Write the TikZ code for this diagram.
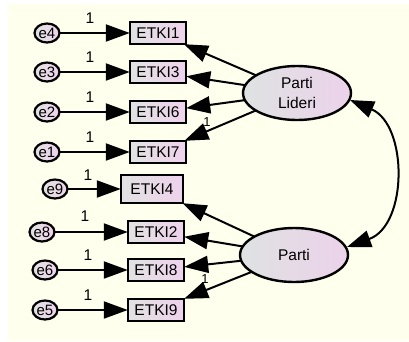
\documentclass[tikz,border=0pt]{standalone}
\usepackage{fontspec}
\setmainfont{Liberation Sans}
\usetikzlibrary{arrows.meta,shapes.geometric}
\definecolor{bgc}{RGB}{255,255,238}
\definecolor{boxL}{RGB}{226,226,226}
\definecolor{boxR}{RGB}{238,210,236}
\definecolor{latL}{RGB}{222,226,226}
\definecolor{latR}{RGB}{236,210,234}
\begin{document}
\begin{tikzpicture}[x=1pt,y=-1pt,
  obs/.style={left color=boxL,right color=boxR,minimum width=56pt,minimum height=22pt,inner sep=0pt,font=\fontsize{15.5}{17}\selectfont,
    postaction={draw=black,line width=2.4pt}},
  err/.style={ellipse,left color=boxL,right color=boxR,minimum width=25pt,minimum height=19pt,inner sep=0pt,font=\fontsize{15}{16}\selectfont,
    postaction={draw=black,line width=2.2pt}},
  lat/.style={ellipse,left color=latL,right color=latR,minimum width=108pt,minimum height=54pt,inner sep=0pt,align=center,font=\fontsize{15.5}{20}\selectfont,
    postaction={draw=black,line width=2.4pt}},
  arr/.style={line width=2pt,-{Triangle[length=24pt,width=17pt]}},
  darr/.style={line width=2pt,{Triangle[length=24pt,width=17pt]}-{Triangle[length=24pt,width=17pt]}},
  one/.style={inner sep=0pt,font=\fontsize{15.5}{17}\selectfont},
  onesm/.style={inner sep=0pt,font=\fontsize{13}{14}\selectfont}
]
\useasboundingbox (0,0) rectangle (409,341);
\fill[bgc] (0,0) rectangle (409,341);
\fill[white] (0,0) rectangle (8,341);
\fill[white] (0,0) rectangle (409,4);

% small constraint labels, partly hidden by arrows
\node[onesm] (f1) at (207,122) {1};
\node[onesm] (f2) at (205,279) {1};

% observed variables
\node[obs] (b1) at (158,33) {ETKI1};
\node[obs] (b3) at (158,72) {ETKI3};
\node[obs] (b6) at (158,112) {ETKI6};
\node[obs] (b7) at (158,152) {ETKI7};
\node[obs,minimum width=62pt,minimum height=28pt] (b4) at (152,189) {ETKI4};
\node[obs] (b2) at (156,232) {ETKI2};
\node[obs] (b8) at (156,270) {ETKI8};
\node[obs] (b9) at (156,310) {ETKI9};

% errors
\node[err] (e4) at (47,33) {e4};
\node[err] (e3) at (47,72) {e3};
\node[err] (e2) at (47,112) {e2};
\node[err] (e1) at (47,152) {e1};
\node[err] (e9) at (55,189) {e9};
\node[err] (e8) at (42,232) {e8};
\node[err] (e6) at (45,270) {e6};
\node[err] (e5) at (45,310) {e5};

% latents
\node[lat] (pl) at (297,93) {Parti\\Lideri};
\node[lat] (pa) at (294,255) {Parti};

% labels
\node[one] (l4) at (90,18) {1};
\node[one] (l3) at (90,57) {1};
\node[one] (l2) at (90,97) {1};
\node[one] (l1) at (90,137) {1};
\node[one] (l9) at (88,175) {1};
\node[one] (l8) at (85,216) {1};
\node[one] (l6) at (88,255) {1};
\node[one] (l5) at (88,295) {1};

% error arrows
\draw[arr] (e4) -- (b1);
\draw[arr] (e3) -- (b3);
\draw[arr] (e2) -- (b6);
\draw[arr] (e1) -- (b7);
\draw[arr] (e9) -- (b4);
\draw[arr] (e8) -- (b2);
\draw[arr] (e6) -- (b8);
\draw[arr] (e5) -- (b9);

% loadings
\draw[arr] (pl) -- (b1);
\draw[arr] (pl) -- (b3);
\draw[arr] (pl) -- (b6);
\draw[arr] (pl) -- (b7);
\draw[arr] (pa) -- (b4);
\draw[arr] (pa) -- (b2);
\draw[arr] (pa) -- (b8);
\draw[arr] (pa) -- (b9);

% covariance
\coordinate (c1) at (350,100);
\coordinate (c2) at (347,247);
\draw[darr] (c1) .. controls (408,125) and (408,225) .. (c2);
\end{tikzpicture}
\end{document}
